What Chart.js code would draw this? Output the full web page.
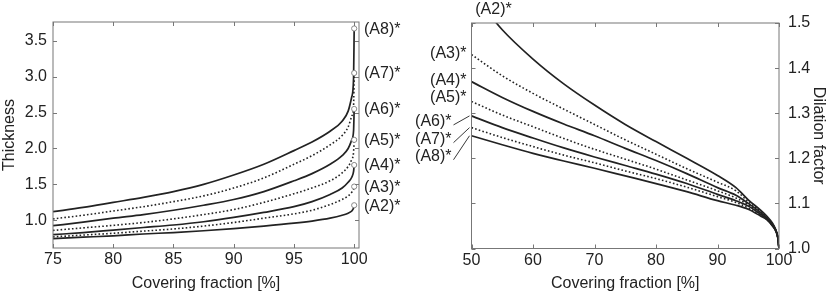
<!DOCTYPE html>
<html lang="en">
<head>
    <meta charset="UTF-8">
    <title>Thickness and dilation factor vs covering fraction</title>
    <script src="https://cdn.jsdelivr.net/npm/chart.js"></script>
    <style>
        body { margin: 0; background: #fff; }
        .wrap { position: relative; width: 830px; height: 296px; }
        .wrap canvas { position: absolute; left: 0; top: 0; }
    </style>
</head>
<body>
<div class="wrap">
    <canvas id="thickness-chart" width="830" height="296"></canvas>
    <canvas id="dilation-chart" width="830" height="296"></canvas>
</div>
<script>
// series names, same order in both panels
const seriesNames = ['(A2)*', '(A3)*', '(A4)*', '(A5)*', '(A6)*', '(A7)*', '(A8)*'];
const seriesDotted = [false, true, false, true, false, true, false];

// left panel: thickness vs covering fraction
const leftX = [75, 77.5, 80, 82.5, 85, 87.5, 90, 92.5, 95, 96.5, 98, 99, 99.5, 99.8, 99.95, 100];
const thickA2 = [0.745, 0.765, 0.785, 0.81, 0.83, 0.855, 0.885, 0.92, 0.96, 0.99, 1.03, 1.07, 1.10, 1.13, 1.17, 1.21];
const thickA3 = [0.77, 0.795, 0.82, 0.85, 0.88, 0.92, 0.97, 1.03, 1.09, 1.14, 1.22, 1.29, 1.34, 1.39, 1.43, 1.47];
const thickA4 = [0.80, 0.83, 0.865, 0.90, 0.935, 0.98, 1.04, 1.11, 1.19, 1.26, 1.36, 1.45, 1.53, 1.60, 1.68, 1.77];
const thickA5 = [0.86, 0.895, 0.93, 0.97, 1.02, 1.08, 1.15, 1.25, 1.37, 1.45, 1.55, 1.66, 1.75, 1.85, 1.95, 2.12];
const thickA6 = [0.925, 0.975, 1.03, 1.08, 1.14, 1.21, 1.29, 1.40, 1.55, 1.65, 1.78, 1.90, 2.00, 2.12, 2.25, 2.55];
const thickA7 = [1.02, 1.07, 1.13, 1.19, 1.26, 1.34, 1.45, 1.59, 1.78, 1.90, 2.05, 2.18, 2.30, 2.45, 2.60, 3.05];
const thickA8 = [1.12, 1.18, 1.25, 1.32, 1.40, 1.50, 1.63, 1.78, 1.97, 2.09, 2.24, 2.38, 2.52, 2.72, 2.98, 3.67];
const leftXTicks = [75, 80, 85, 90, 95, 100];
const leftYTicks = [1.0, 1.5, 2.0, 2.5, 3.0, 3.5];

// right panel: dilation factor vs covering fraction
const rightX = [50, 55, 60, 65, 70, 75, 80, 85, 90, 93, 95, 97, 98, 99, 99.5, 99.8, 100];
const dilA2 = [1.57, 1.485, 1.42, 1.365, 1.318, 1.275, 1.237, 1.20, 1.162, 1.135, 1.108, 1.085, 1.072, 1.055, 1.04, 1.025, 1.0];
const dilA3 = [1.43, 1.383, 1.344, 1.309, 1.275, 1.241, 1.209, 1.177, 1.147, 1.128, 1.104, 1.083, 1.07, 1.053, 1.04, 1.025, 1.0];
const dilA4 = [1.37, 1.335, 1.304, 1.276, 1.25, 1.222, 1.195, 1.166, 1.135, 1.118, 1.10, 1.08, 1.068, 1.052, 1.04, 1.025, 1.0];
const dilA5 = [1.326, 1.296, 1.27, 1.244, 1.22, 1.198, 1.176, 1.152, 1.128, 1.112, 1.097, 1.078, 1.067, 1.051, 1.039, 1.025, 1.0];
const dilA6 = [1.294, 1.268, 1.245, 1.223, 1.203, 1.184, 1.165, 1.144, 1.12, 1.106, 1.094, 1.076, 1.066, 1.05, 1.039, 1.025, 1.0];
const dilA7 = [1.268, 1.246, 1.226, 1.207, 1.19, 1.172, 1.155, 1.136, 1.115, 1.102, 1.09, 1.074, 1.065, 1.05, 1.039, 1.025, 1.0];
const dilA8 = [1.25, 1.23, 1.211, 1.194, 1.178, 1.161, 1.144, 1.126, 1.106, 1.096, 1.087, 1.072, 1.064, 1.049, 1.038, 1.024, 1.0];
const rightXTicks = [50, 60, 70, 80, 90, 100];
const rightYTicks = [1.0, 1.1, 1.2, 1.3, 1.4, 1.5];

const FONT = { family: 'Liberation Sans, Arial, Helvetica, sans-serif', size: 16 };
const INK = '#222';
const AXIS = '#777';

function makeDatasets(xs, series, withMarkers) {
    return series.map((ys, i) => ({
        label: seriesNames[i],
        data: xs.map((x, j) => ({ x: x, y: ys[j] })),
        borderColor: INK,
        borderWidth: seriesDotted[i] ? 1.6 : 1.7,
        borderDash: seriesDotted[i] ? [1.6, 2.2] : [],
        cubicInterpolationMode: 'monotone',
        fill: false,
        pointRadius: ctx => (withMarkers && ctx.dataIndex === xs.length - 1) ? 2.6 : 0,
        pointBorderColor: '#888',
        pointBackgroundColor: '#fff',
        pointBorderWidth: 1
    }));
}

// box round the plot area with small inward ticks on all four sides
const boxTicks = {
    id: 'boxTicks',
    afterDraw(chart) {
        const { ctx, chartArea: a, scales } = chart;
        const len = 4;
        ctx.save();
        ctx.strokeStyle = AXIS;
        ctx.lineWidth = 1;
        ctx.strokeRect(a.left, a.top, a.right - a.left, a.bottom - a.top);
        ctx.beginPath();
        scales.x.ticks.forEach(t => {
            const px = Math.round(scales.x.getPixelForValue(t.value)) + 0.5;
            ctx.moveTo(px, a.bottom); ctx.lineTo(px, a.bottom - len);
            ctx.moveTo(px, a.top); ctx.lineTo(px, a.top + len);
        });
        scales.y.ticks.forEach(t => {
            const py = Math.round(scales.y.getPixelForValue(t.value)) + 0.5;
            ctx.moveTo(a.left, py); ctx.lineTo(a.left + len, py);
            ctx.moveTo(a.right, py); ctx.lineTo(a.right - len, py);
        });
        ctx.stroke();
        ctx.restore();
    }
};

// series labels at the right end of the thickness curves
const leftLabels = {
    id: 'leftLabels',
    afterDraw(chart) {
        const { ctx, chartArea: a, scales } = chart;
        ctx.save();
        ctx.font = FONT.size + 'px ' + FONT.family;
        ctx.fillStyle = INK;
        ctx.textAlign = 'left';
        ctx.textBaseline = 'middle';
        chart.data.datasets.forEach(ds => {
            const last = ds.data[ds.data.length - 1];
            ctx.fillText(ds.label, a.right + 5, scales.y.getPixelForValue(last.y) + 1);
        });
        ctx.restore();
    }
};

// series labels at the left end of the dilation curves
const rightLabels = {
    id: 'rightLabels',
    afterDraw(chart) {
        const { ctx, chartArea: a, scales } = chart;
        const ds = chart.data.datasets;
        const yOf = i => scales.y.getPixelForValue(ds[i].data[0].y);
        ctx.save();
        ctx.font = FONT.size + 'px ' + FONT.family;
        ctx.fillStyle = INK;
        ctx.strokeStyle = INK;
        ctx.lineWidth = 0.9;
        ctx.textBaseline = 'middle';
        // A2 runs out of the top of the box
        ctx.textAlign = 'center';
        ctx.fillText(ds[0].label, a.left + 22, a.top - 13);
        ctx.textAlign = 'right';
        ctx.fillText(ds[1].label, a.left - 5, yOf(1) - 1);
        ctx.fillText(ds[2].label, a.left - 5, yOf(2) - 1);
        ctx.fillText(ds[3].label, a.left - 5, yOf(3) - 4);
        // A6..A8 sit close together, so they get leader lines
        [6, 12, 21].forEach((off, k) => {
            const i = 4 + k;
            const y = yOf(i);
            ctx.fillText(ds[i].label, a.left - 20, y + off);
            ctx.beginPath();
            ctx.moveTo(a.left - 18, y + off + 3);
            ctx.lineTo(a.left - 2, y);
            ctx.stroke();
        });
        ctx.restore();
    }
};

function axis(opts) {
    return Object.assign({
        type: 'linear',
        grid: { display: false, drawTicks: false },
        border: { display: false },
        ticks: { font: FONT, color: INK }
    }, opts);
}

new Chart(document.getElementById('thickness-chart'), {
    type: 'line',
    data: { datasets: makeDatasets(leftX, [thickA2, thickA3, thickA4, thickA5, thickA6, thickA7, thickA8], true) },
    options: {
        responsive: false,
        animation: false,
        layout: { padding: { left: 0, top: 22, right: 471, bottom: 0 } },
        plugins: { legend: { display: false }, tooltip: { enabled: false } },
        scales: {
            x: axis({
                min: 75, max: 100.4,
                ticks: { font: FONT, color: INK, padding: 2, maxRotation: 0, callback: v => String(v) },
                afterBuildTicks: s => { s.ticks = leftXTicks.map(v => ({ value: v })); },
                afterFit: s => { s.height = 48; },
                title: { display: true, text: 'Covering fraction [%]', font: FONT, color: INK, padding: { top: 0, bottom: 3 } }
            }),
            y: axis({
                min: 0.615, max: 3.76,
                ticks: { font: FONT, color: INK, padding: 6, callback: v => v.toFixed(1) },
                afterBuildTicks: s => { s.ticks = leftYTicks.map(v => ({ value: v })); },
                afterFit: s => { s.width = 53; },
                title: { display: true, text: 'Thickness', font: FONT, color: INK, padding: 0 }
            })
        }
    },
    plugins: [boxTicks, leftLabels]
});

new Chart(document.getElementById('dilation-chart'), {
    type: 'line',
    data: { datasets: makeDatasets(rightX, [dilA2, dilA3, dilA4, dilA5, dilA6, dilA7, dilA8], false) },
    options: {
        responsive: false,
        animation: false,
        layout: { padding: { left: 471.5, top: 23, right: 0, bottom: 0 } },
        plugins: { legend: { display: false }, tooltip: { enabled: false } },
        scales: {
            x: axis({
                min: 50, max: 100,
                ticks: { font: FONT, color: INK, padding: 2, maxRotation: 0, callback: v => String(v) },
                afterBuildTicks: s => { s.ticks = rightXTicks.map(v => ({ value: v })); },
                afterFit: s => { s.height = 47.5; },
                title: { display: true, text: 'Covering fraction [%]', font: FONT, color: INK, padding: { top: 0, bottom: 3 } }
            }),
            y: axis({
                position: 'right',
                min: 1.0, max: 1.5,
                ticks: { font: FONT, color: INK, padding: 9, callback: v => v.toFixed(1) },
                afterBuildTicks: s => { s.ticks = rightYTicks.map(v => ({ value: v })); },
                afterFit: s => { s.width = 51; },
                title: { display: true, text: 'Dilation factor', font: FONT, color: INK, padding: 2 }
            })
        }
    },
    plugins: [boxTicks, rightLabels]
});
</script>
</body>
</html>
